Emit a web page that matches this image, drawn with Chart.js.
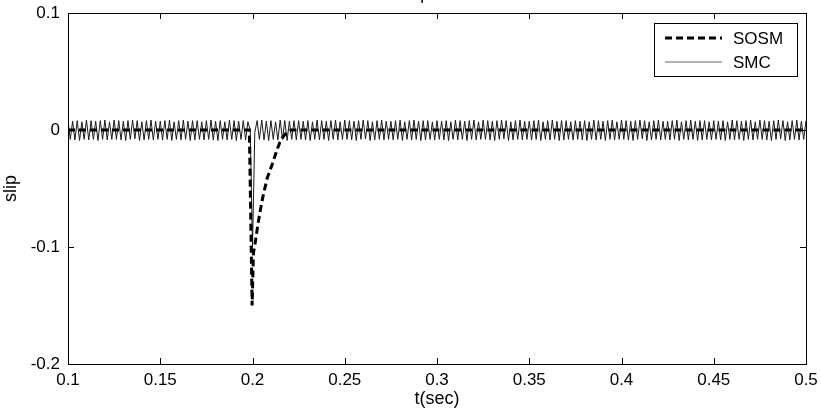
<!DOCTYPE html>
<html>
<head>
<meta charset="utf-8">
<script src="https://cdn.jsdelivr.net/npm/chart.js@4.4.1/dist/chart.umd.min.js"></script>
<style>
  html, body { margin: 0; padding: 0; background: #fff; }
</style>
</head>
<body>
<canvas id="slipChart" width="821" height="410"></canvas>
<script>
// axis ticks
const xTicks = [0.1, 0.15, 0.2, 0.25, 0.3, 0.35, 0.4, 0.45, 0.5];
const yTicks = [0.1, 0, -0.1, -0.2];

// SOSM (dashed)
const sosmT = [0.1, 0.1983, 0.1998, 0.2005, 0.2014, 0.203, 0.2042, 0.2055, 0.2068, 0.208, 0.2095, 0.211, 0.2122, 0.2135, 0.2149, 0.2165, 0.2185, 0.221, 0.5];
const sosmV = [0, 0, -0.15, -0.105, -0.097, -0.08, -0.069, -0.058, -0.049, -0.041, -0.0345, -0.028, -0.022, -0.016, -0.0103, -0.006, -0.002, 0, 0];

// SMC (chattering) - sampled every 1.25 ms from t = 0.1
const smcStart = 0.1;
const smcStep = 0.00125;
const smcV = [
  0.008,-0.008,0.0075,-0.0085,0.008,-0.009,0.007,-0.008,0.0085,-0.0085,0.008,-0.008,0.0075,-0.009,0.008,-0.008,0.0085,-0.0085,0.007,-0.008,
  0.0085,-0.008,0.008,-0.0085,0.0075,-0.009,0.008,-0.008,0.0085,-0.0075,0.008,-0.009,0.007,-0.0085,0.008,-0.008,0.0085,-0.0085,0.0075,-0.008,
  0.0075,-0.0085,0.008,-0.008,0.0085,-0.009,0.007,-0.008,0.008,-0.0085,0.0085,-0.008,0.0075,-0.009,0.008,-0.0085,0.008,-0.008,0.007,-0.0085,
  0.008,-0.008,0.0085,-0.0085,0.0075,-0.009,0.008,-0.008,0.007,-0.0085,0.0085,-0.008,0.008,-0.009,0.0075,-0.008,0.008,-0.0085,0.007,0,
  -0.1,-0.002,0.008,-0.008,0.0085,-0.0085,0.0075,-0.009,0.008,-0.008,0.007,-0.0085,0.0085,-0.008,0.008,-0.009,0.0075,-0.008,0.008,-0.0085,
  0.008,-0.008,0.0075,-0.0085,0.008,-0.009,0.007,-0.008,0.0085,-0.0085,0.008,-0.008,0.0075,-0.009,0.008,-0.008,0.0085,-0.0085,0.007,-0.008,
  0.0085,-0.008,0.008,-0.0085,0.0075,-0.009,0.008,-0.008,0.0085,-0.0075,0.008,-0.009,0.007,-0.0085,0.008,-0.008,0.0085,-0.0085,0.0075,-0.008,
  0.0075,-0.0085,0.008,-0.008,0.0085,-0.009,0.007,-0.008,0.008,-0.0085,0.0085,-0.008,0.0075,-0.009,0.008,-0.0085,0.008,-0.008,0.007,-0.0085,
  0.008,-0.008,0.0075,-0.0085,0.008,-0.009,0.007,-0.008,0.0085,-0.0085,0.008,-0.008,0.0075,-0.009,0.008,-0.008,0.0085,-0.0085,0.007,-0.008,
  0.0085,-0.008,0.008,-0.0085,0.0075,-0.009,0.008,-0.008,0.0085,-0.0075,0.008,-0.009,0.007,-0.0085,0.008,-0.008,0.0085,-0.0085,0.0075,-0.008,
  0.0075,-0.0085,0.008,-0.008,0.0085,-0.009,0.007,-0.008,0.008,-0.0085,0.0085,-0.008,0.0075,-0.009,0.008,-0.0085,0.008,-0.008,0.007,-0.0085,
  0.008,-0.008,0.0075,-0.0085,0.008,-0.009,0.007,-0.008,0.0085,-0.0085,0.008,-0.008,0.0075,-0.009,0.008,-0.008,0.0085,-0.0085,0.007,-0.008,
  0.0085,-0.008,0.008,-0.0085,0.0075,-0.009,0.008,-0.008,0.0085,-0.0075,0.008,-0.009,0.007,-0.0085,0.008,-0.008,0.0085,-0.0085,0.0075,-0.008,
  0.0075,-0.0085,0.008,-0.008,0.0085,-0.009,0.007,-0.008,0.008,-0.0085,0.0085,-0.008,0.0075,-0.009,0.008,-0.0085,0.008,-0.008,0.007,-0.0085,
  0.008,-0.008,0.0075,-0.0085,0.008,-0.009,0.007,-0.008,0.0085,-0.0085,0.008,-0.008,0.0075,-0.009,0.008,-0.008,0.0085,-0.0085,0.007,-0.008,
  0.0085,-0.008,0.008,-0.0085,0.0075,-0.009,0.008,-0.008,0.0085,-0.0075,0.008,-0.009,0.007,-0.0085,0.008,-0.008,0.0085,-0.0085,0.0075,-0.008,
  0.008
];

const fontFam = '"Liberation Sans", Arial, Helvetica, sans-serif';
Chart.defaults.font.family = fontFam;
Chart.defaults.font.size = 17;
Chart.defaults.color = '#000';

const sosmData = sosmT.map((t, i) => ({ x: t, y: sosmV[i] }));
const smcData = smcV.map((v, i) => ({ x: smcStart + i * smcStep, y: v }));

// matlab style box, inward ticks, legend box and the clipped title
const matlabFrame = {
  id: 'matlabFrame',
  afterDraw(chart) {
    const { ctx, chartArea: a, scales } = chart;
    const tl = 6;
    ctx.save();
    ctx.strokeStyle = '#000';
    ctx.lineWidth = 1;
    ctx.strokeRect(a.left + 0.5, a.top + 0.5, a.right - a.left, a.bottom - a.top);
    ctx.beginPath();
    xTicks.forEach(v => {
      const px = Math.round(scales.x.getPixelForValue(v)) + 0.5;
      ctx.moveTo(px, a.bottom); ctx.lineTo(px, a.bottom - tl);
      ctx.moveTo(px, a.top); ctx.lineTo(px, a.top + tl);
    });
    yTicks.forEach(v => {
      const py = Math.round(scales.y.getPixelForValue(v)) + 0.5;
      ctx.moveTo(a.left, py); ctx.lineTo(a.left + tl, py);
      ctx.moveTo(a.right, py); ctx.lineTo(a.right - tl, py);
    });
    ctx.stroke();

    // title, mostly cut off by the top edge
    ctx.fillStyle = '#000';
    ctx.font = '17px ' + fontFam;
    ctx.textAlign = 'center';
    ctx.textBaseline = 'alphabetic';
    ctx.fillText('slip', 417, 0);

    // legend
    const lx = 654, ly = 23, lw = 143, lh = 53;
    ctx.fillStyle = '#fff';
    ctx.fillRect(lx, ly, lw, lh);
    ctx.strokeRect(lx + 0.5, ly + 0.5, lw, lh);
    chart.data.datasets.forEach((ds, i) => {
      const y = ly + 15 + i * 24;
      ctx.beginPath();
      ctx.strokeStyle = ds.legendColor || ds.borderColor;
      ctx.lineWidth = ds.borderWidth;
      ctx.setLineDash(ds.borderDash || []);
      ctx.moveTo(665, y); ctx.lineTo(722, y);
      ctx.stroke();
      ctx.setLineDash([]);
      ctx.fillStyle = '#000';
      ctx.textAlign = 'left';
      ctx.textBaseline = 'middle';
      ctx.fillText(ds.label, 733, y + 1);
    });
    ctx.restore();
  }
};

new Chart(document.getElementById('slipChart'), {
  type: 'line',
  data: {
    datasets: [{
      label: 'SOSM',
      data: sosmData,
      borderColor: '#000',
      borderWidth: 3,
      borderDash: [7, 4],
      pointRadius: 0,
      tension: 0
    }, {
      label: 'SMC',
      data: smcData,
      borderColor: '#1a1a1a',
      legendColor: '#666',
      borderWidth: 1,
      pointRadius: 0,
      tension: 0
    }]
  },
  options: {
    responsive: false,
    animation: false,
    events: [],
    layout: { padding: { left: 0, top: 13, right: 15, bottom: 0 } },
    plugins: {
      legend: { display: false },
      tooltip: { enabled: false }
    },
    scales: {
      x: {
        type: 'linear',
        min: 0.1,
        max: 0.5,
        afterBuildTicks: s => { s.ticks = xTicks.map(v => ({ value: v })); },
        afterFit: s => { s.height = 46; s.paddingLeft = 0; s.paddingRight = 0; },
        grid: { display: false, drawTicks: false },
        border: { display: false },
        ticks: {
          padding: 6,
          maxRotation: 0,
          callback: v => String(parseFloat(v.toFixed(2)))
        },
        title: { display: true, text: 't(sec)', font: { size: 18 }, padding: 0 }
      },
      y: {
        type: 'linear',
        min: -0.2,
        max: 0.1,
        afterBuildTicks: s => { s.ticks = yTicks.map(v => ({ value: v })); },
        afterFit: s => { s.width = 68; s.paddingTop = 0; s.paddingBottom = 0; },
        grid: { display: false, drawTicks: false },
        border: { display: false },
        ticks: {
          padding: 8,
          callback: v => String(parseFloat(v.toFixed(1)))
        },
        title: { display: true, text: 'slip', font: { size: 18 }, padding: 0 }
      }
    }
  },
  plugins: [matlabFrame]
});
</script>
</body>
</html>
